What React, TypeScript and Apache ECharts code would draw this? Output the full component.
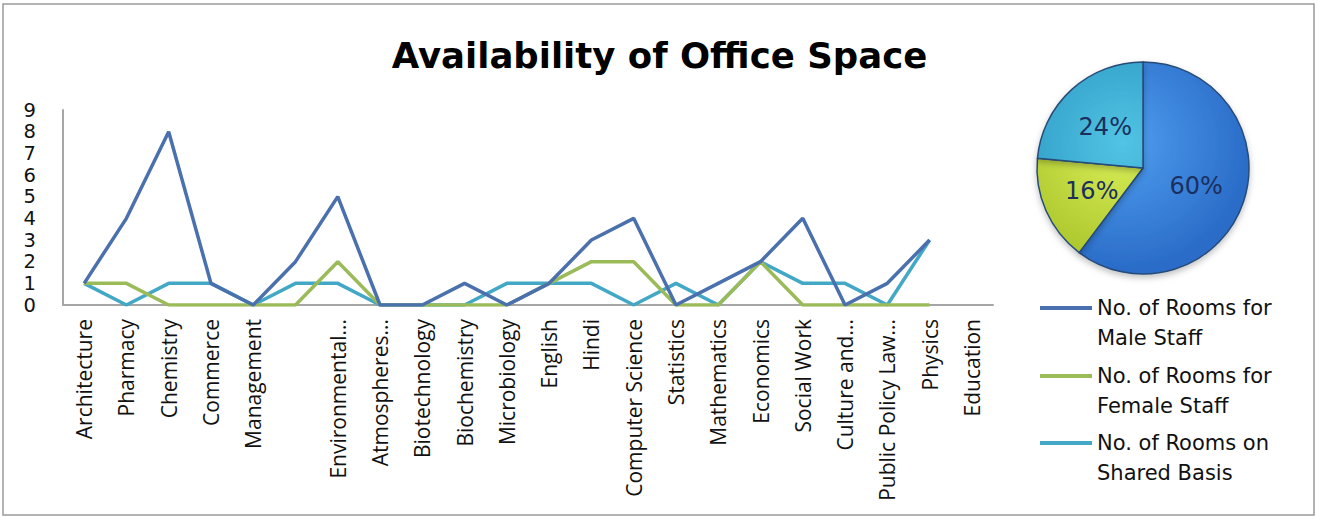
import React, { useEffect, useRef } from "react";
import * as echarts from "echarts";

const categories = [
  "Architecture", "Pharmacy", "Chemistry", "Commerce", "Management", "",
  "Environmental...", "Atmospheres...", "Biotechnology", "Biochemistry",
  "Microbiology", "English", "Hindi", "Computer Science", "Statistics",
  "Mathematics", "Economics", "Social Work", "Culture and...",
  "Public Policy Law...", "Physics", "Education",
];
const maleRooms = [1, 4, 8, 1, 0, 2, 5, 0, 0, 1, 0, 1, 3, 4, 0, 1, 2, 4, 0, 1, 3, null];
const femaleRooms = [1, 1, 0, 0, 0, 0, 2, 0, 0, 0, 0, 1, 2, 2, 0, 0, 2, 0, 0, 0, 0, null];
const sharedRooms = [1, 0, 1, 1, 0, 1, 1, 0, 0, 0, 1, 1, 1, 0, 1, 0, 2, 1, 1, 0, 3, null];

const seriesNames = [
  "No. of Rooms for\nMale Staff",
  "No. of Rooms for\nFemale Staff",
  "No. of Rooms on\nShared Basis",
];
const lineColors = ["#4a70ad", "#9bbb59", "#43a8c6"];
const pieColors = [
  ["#4f9ff0", "#2a6cc8"],
  ["#dcf05a", "#a9c42a"],
  ["#52c4e4", "#2a97c2"],
];
const yMin = 0;
const yMax = 9;
const yStep = 1;

const WIDE = "'DejaVu Sans', Verdana, sans-serif";
const NARROW = "'Open Sans', Lato, sans-serif";

const sum = (a: (number | null)[]) => a.reduce((s: number, v) => s + (v ?? 0), 0);

export default function App() {
  const ref = useRef<HTMLDivElement>(null);

  useEffect(() => {
    if (!ref.current) return;
    const chart = echarts.init(ref.current, undefined, { renderer: "svg" });
    const seriesData = [maleRooms, femaleRooms, sharedRooms];
    const pieCx = 1143;
    const pieCy = 168;
    const pieR = 106;

    const legendLineY = [308, 376, 443];

    chart.setOption({
      animation: false,
      backgroundColor: "#ffffff",
      title: {
        text: "Availability of Office Space",
        left: "center",
        top: 32,
        textStyle: { fontFamily: WIDE, fontWeight: "bold", fontSize: 35.5, color: "#000" },
      },
      legend: seriesNames.map((n, i) => ({
        data: [n],
        left: 1040,
        top: legendLineY[i] - 45,
        padding: 0,
        icon: "rect",
        itemWidth: 52,
        itemHeight: 4,
        itemGap: 6,
        selectedMode: false,
        formatter: (name: string) => "\n" + name,
        textStyle: {
          fontFamily: WIDE,
          fontSize: 21,
          lineHeight: 30,
          color: "#111",
        },
      })),
      grid: { left: 63, right: 326, top: 110, bottom: 212, containLabel: false },
      xAxis: {
        type: "category",
        data: categories,
        boundaryGap: true,
        axisLine: { lineStyle: { color: "#a6a6a6", width: 2 } },
        axisTick: { show: false },
        axisLabel: {
          interval: 0,
          rotate: 90,
          margin: 14,
          fontFamily: NARROW,
          fontSize: 21,
          color: "#111",
        },
        splitLine: { show: false },
      },
      yAxis: {
        type: "value",
        min: yMin,
        max: yMax,
        interval: yStep,
        axisLine: { show: true, lineStyle: { color: "#a6a6a6", width: 2 } },
        axisTick: { show: false },
        splitLine: { show: false },
        axisLabel: {
          fontFamily: WIDE,
          fontSize: 19.5,
          lineHeight: 20,
          color: "#111",
          margin: 27,
        },
      },
      series: [
        ...seriesNames.map((n, i) => ({
          type: "line",
          name: n,
          data: seriesData[i],
          showSymbol: false,
          symbol: "none",
          lineStyle: { width: 3.5, color: lineColors[i] },
          itemStyle: { color: lineColors[i] },
          z: 3 - i,
        })),
        {
          type: "pie",
          center: [pieCx, pieCy],
          radius: [0, pieR],
          startAngle: 90,
          clockwise: true,
          percentPrecision: 0,
          legendHoverLink: false,
          label: {
            show: true,
            position: "inside",
            formatter: "{d}%",
            fontFamily: WIDE,
            fontSize: 24,
            color: "#1b2f5e",
          },
          labelLine: { show: false },
          itemStyle: {
            borderColor: "#274b78",
            borderWidth: 1.5,
            shadowBlur: 6,
            shadowColor: "rgba(0,0,0,0.25)",
            shadowOffsetY: 3,
          },
          data: ["Male Staff", "Female Staff", "Shared Basis"].map((n, i) => ({
            name: n,
            value: sum(seriesData[i]),
            itemStyle: {
              color: new echarts.graphic.RadialGradient(
                pieCx - 20,
                pieCy - 25,
                pieR * 1.2,
                [
                  { offset: 0, color: pieColors[i][0] },
                  { offset: 1, color: pieColors[i][1] },
                ],
                true
              ),
            },
          })),
        },
      ],
      graphic: [
        {
          type: "rect",
          shape: { x: 3, y: 4, width: 1311, height: 511 },
          style: { fill: "none", stroke: "#9a9a9a", lineWidth: 1.5 },
          silent: true,
        },
      ],
    });
    return () => chart.dispose();
  }, []);

  return (
    <div
      ref={ref}
      style={{ position: "fixed", left: 0, top: 0, width: 1319, height: 517, background: "#fff" }}
    />
  );
}
